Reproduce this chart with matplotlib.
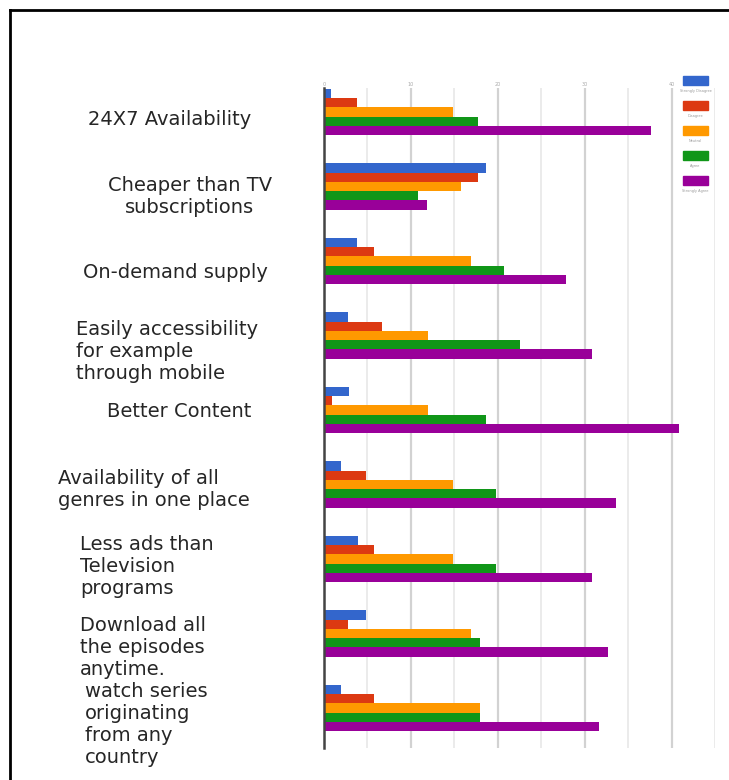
import matplotlib.pyplot as plt
import matplotlib.transforms as mtransforms
from matplotlib.patches import Rectangle
from matplotlib.lines import Line2D

reasons = [
    "24X7 Availability",
    "Cheaper than TV\nsubscriptions",
    "On-demand supply",
    "Easily accessibility\nfor example\nthrough mobile",
    "Better Content",
    "Availability of all\ngenres in one place",
    "Less ads than\nTelevision\nprograms",
    "Download all\nthe episodes\nanytime.",
    "watch series\noriginating\nfrom any\ncountry",
]
series = ["Strongly Disagree", "Disagree", "Neutral", "Agree", "Strongly Agree"]
colors = ["#3366cc", "#dc3912", "#ff9900", "#109618", "#990099"]

strongly_disagree = [0.8, 18.7, 3.8, 2.8, 2.9, 1.9, 3.9, 4.8, 1.9]
disagree = [3.8, 17.7, 5.7, 6.7, 0.9, 4.8, 5.8, 2.8, 5.8]
neutral = [14.8, 15.8, 16.9, 12.0, 12.0, 14.9, 14.9, 16.9, 18.0]
agree = [17.7, 10.8, 20.7, 22.6, 18.7, 19.8, 19.8, 17.9, 17.9]
strongly_agree = [37.6, 11.9, 27.8, 30.8, 40.8, 33.6, 30.8, 32.7, 31.7]
values = [strongly_disagree, disagree, neutral, agree, strongly_agree]

W, H = 729, 780
fig = plt.figure(figsize=(W / 100, H / 100), dpi=100)
ax = fig.add_axes([324 / W, 32 / H, (715 - 324) / W, (748 - 88) / H])

bar_h = 0.125
for j, (vals, c) in enumerate(zip(values, colors)):
    ys = [i + (j - 2) * bar_h for i in range(len(reasons))]
    ax.barh(ys, vals, height=bar_h, color=c, label=series[j], zorder=3)

ax.set_xlim(0, 45)
ax.set_ylim(8.537, -0.322)
ax.set_xticks([0, 10, 20, 30, 40])
ax.set_xticks([5, 15, 25, 35, 45], minor=True)
ax.xaxis.tick_top()
ax.tick_params(axis="x", which="both", length=0, labelsize=3.5, labelcolor="#aaaaaa", pad=1)
ax.set_yticks([])
ax.grid(axis="x", which="major", color="#d2d2d2", lw=1.6, zorder=0)
ax.grid(axis="x", which="minor", color="#e8e8e8", lw=1.2, zorder=0)
for s in ["top", "right", "bottom"]:
    ax.spines[s].set_visible(False)
ax.spines["left"].set_color("#444444")
ax.spines["left"].set_linewidth(1.8)
ax.spines["left"].set_zorder(4)

# category labels: (x pixel, alignment, vertical nudge in pixels)
label_place = [
    (170, "center", 8), (190, "center", 10), (175, "center", 12),
    (76, "left", 16), (179, "center", 2), (58, "left", 5),
    (80, "left", 8), (80, "left", 14), (85, "left", 17),
]
trans = mtransforms.blended_transform_factory(fig.transFigure, ax.transData)
for i, (txt, (xp, ha, dy)) in enumerate(zip(reasons, label_place)):
    ax.text(xp / W, i + dy / 74.5, txt, transform=trans, ha=ha, va="center",
            multialignment=ha, fontsize=14, color="#262626",
            linespacing=1.2, clip_on=False)

# legend swatches stacked at the top right, names underneath
for j, (name, c) in enumerate(zip(series, colors)):
    top = 76 + 25 * j
    fig.add_artist(Rectangle((683 / W, 1 - (top + 9) / H), 25 / W, 9 / H,
                             transform=fig.transFigure, color=c))
    fig.text(695.5 / W, 1 - (top + 13) / H, name, ha="center", va="top",
             fontsize=2.5, color="#999999")

# outer frame
fig.add_artist(Line2D([10 / W, 10 / W], [0, 1 - 10 / H], color="black", lw=2))
fig.add_artist(Line2D([10 / W, 1], [1 - 10 / H, 1 - 10 / H], color="black", lw=2))

fig.savefig("out.png", dpi=100)
